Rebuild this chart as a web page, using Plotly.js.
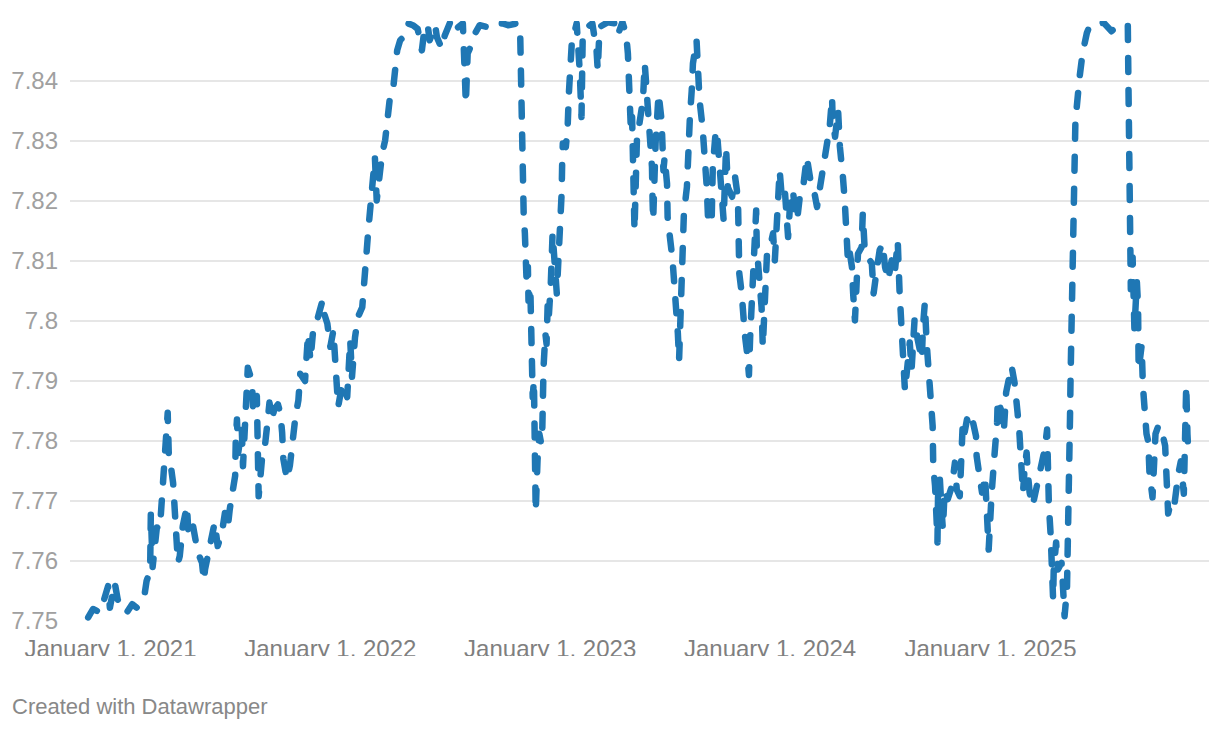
<!DOCTYPE html>
<html>
<head>
<meta charset="utf-8">
<script src="https://cdn.plot.ly/plotly-3.0.1.min.js"></script>
<style>
  html, body { margin: 0; padding: 0; background: #fff; }
  #chart { width: 1220px; height: 730px; }
  .js-line { stroke-linecap: round !important; stroke-linejoin: round !important; }
</style>
</head>
<body>
<div id="chart"></div>
<script>
// USD/HKD rate. Dates are day offsets from 2021-01-01.
const dayOffsets = [
-37,-29,-17,-12,-4,-1,7,12,19,27,36,44,52,57,60,64,66,67,70,77,82,85,89,95,97,100,104,107,109,112,115,120,127,129,135,140,145,152,155,157,162,170,173,178,185,190,195,198,203,207,208,210,212,218,220,223,228,235,237,243,244,245,246,252,257,260,264,268,272,278,282,285,287,293,
298,307,312,315,323,328,332,337,343,352,353,360,365,370,373,378,385,393,398,401,406,411,418,421,425,428,431,436,439,442,447,451,456,459,464,469,472,476,481,489,494,502,510,517,522,527,530,539,542,550,555,564,568,585,588,590,593,598,605,613,625,635,646,
651,660,675,680,681,682,683,685,686,688,689,690,691,693,694,697,699,700,701,703,704,705,706,709,712,715,717,719,722,724,726,728,731,734,741,743,748,749,750,751,756,759,761,764,766,774,777,779,782,784,792,800,807,809,812,826,837,842,850,856,859,860,862,864,866,867,869,870,874,879,884,887,890,894,897,899,900,901,905,910,915,917,918,920,924,925,929,932,934,937,940,942,944,947,950,952,957,959,962,965,967,973,975,978,983,987,990,992,
998,1000,1005,1008,1012,1015,1018,1022,1025,1032,1037,1040,1042,1043,1044,1048,1050,1053,1057,1060,1062,1065,1067,1070,1072,1073,1075,1078,1081,1083,1086,1090,1095,1100,1103,1106,1108,1111,1115,1120,1123,1125,1128,1133,1136,1140,1145,1150,1156,1159,1164,1169,1173,1178,1184,1189,1194,1198,1199,1203,1208,1211,1214,1216,1219,1222,1224,1226,1231,1233,1236,1239,1241,1247,1249,1252,1257,1264,1267,1272,1277,1282,1286,1291,1297,1302,1307,1310,1312,1314,1315,1319,1324,1327,1330,1335,1340,1347,1349,1352,1355,1359,1362,1364,1365,1366,1369,1372,1373,1374,1377,1380,1382,1385,1390,1397,1402,1405,1410,1413,1415,1418,1422,1427,1432,1437,1438,1442,1447,1452,1455,1457,1458,1463,1465,1468,1472,1473,1480,1483,1487,1490,1496,1501,1505,1506,1509,1511,1515,1518,1521,1523,1526,1531,1538,1541,1548,1551,1555,1556,1558,1561,1563,1565,1566,1570,1573,1579,1581,1584,1588,1589,
1590,1591,1593,1594,1596,1597,1599,1600,1602,1609,1614,1621,1626,1649,1656,1662,1672,1689,1690,1691,1692,1693,1694,1697,1700,1704,1706,1707,1709,1712,1714,1717,1720,1723,1725,1730,1735,1740,1745,1751,1754,1756,1762,1767,1773,1777,1782,1784,1786,1788,1790
];
const usdHkd = [
7.7506,7.7520,7.7514,7.7530,7.7558,7.7522,7.7564,7.7536,7.7519,7.7514,7.7528,7.7522,7.7536,7.7547,7.7567,7.7578,7.7597,7.7680,7.7590,7.7656,7.7653,7.7703,7.7742,7.7847,7.7770,7.7760,7.7730,7.7686,7.7636,7.7597,7.7608,7.7658,7.7692,7.7653,7.7670,7.7642,7.7614,7.7597,7.7567,7.7586,7.7608,7.7647,7.7664,7.7625,7.7647,7.7680,7.7658,7.7686,7.7714,7.7742,7.7803,7.7836,7.7780,7.7820,7.7758,7.7830,7.7922,7.7900,7.7847,7.7875,7.7808,7.7747,7.7708,7.7775,7.7797,7.7825,7.7864,7.7836,7.7853,7.7861,7.7847,7.7814,7.7770,7.7736,
7.7760,7.7840,7.7868,7.7912,7.7900,7.7979,7.7934,7.7990,7.8001,7.8034,7.8018,7.7996,7.7957,7.7984,7.7934,7.7857,7.7896,7.7873,7.7968,7.7907,7.7973,7.8007,7.8023,7.8079,7.8112,7.8151,7.8190,7.8223,7.8273,7.8201,7.8251,7.8279,7.8301,7.8334,7.8373,7.8384,7.8423,7.8451,7.8468,7.8476,7.8496,7.8493,7.8487,7.8451,7.8493,7.8490,7.8468,7.8493,7.8473,7.8454,7.8476,7.8498,7.8482,7.8496,7.8418,7.8362,7.8446,7.8457,7.8479,7.8493,7.8490,7.8498,7.8496,
7.8496,7.8493,7.8496,7.8490,7.8423,7.8340,7.8268,7.8212,7.8179,7.8146,7.8101,7.8134,7.8062,7.8090,7.8034,7.8057,7.7979,7.7923,7.7873,7.7901,7.7796,7.7746,7.7682,7.7768,7.7812,7.7796,7.7823,7.7923,7.7979,7.7962,7.8034,7.8012,7.8062,7.8146,7.8046,7.8090,7.8146,7.8212,7.8268,7.8296,7.8290,7.8323,7.8379,7.8434,7.8465,7.8496,7.8462,7.8418,7.8340,7.8473,7.8490,7.8496,7.8451,7.8418,7.8490,7.8498,7.8496,7.8476,7.8498,7.8479,7.8446,7.8418,7.8368,7.8318,7.8340,7.8284,7.8229,7.8151,7.8301,7.8340,7.8368,7.8429,7.8390,7.8323,7.8284,7.8257,7.8201,7.8168,7.8296,7.8379,7.8334,7.8284,7.8251,7.8273,7.8229,7.8173,7.8146,7.8112,7.8090,7.8057,7.8023,7.7979,7.7934,7.8046,7.8134,7.8179,7.8223,7.8290,7.8340,7.8384,7.8429,7.8468,7.8423,7.8368,7.8323,7.8273,7.8223,7.8173,
7.8162,7.8257,7.8318,7.8301,7.8251,7.8190,7.8168,7.8290,7.8223,7.8207,7.8240,7.8218,7.8190,7.8134,7.8079,7.8046,7.8012,7.7979,7.7946,7.7910,7.7973,7.8034,7.8090,7.8140,7.8184,7.8123,7.8096,7.8057,7.8023,7.7957,7.8034,7.8112,7.8123,7.8146,7.8101,7.8173,7.8218,7.8251,7.8201,7.8212,7.8168,7.8140,7.8190,7.8218,7.8190,7.8168,7.8212,7.8223,7.8273,7.8246,7.8223,7.8212,7.8190,7.8223,7.8262,7.8284,7.8323,7.8373,7.8334,7.8307,7.8351,7.8290,7.8268,7.8240,7.8201,7.8140,7.8107,7.8123,7.8090,7.8046,7.8001,7.8068,7.8112,7.8123,7.8179,7.8123,7.8107,7.8096,7.8046,7.8084,7.8118,7.8129,7.8090,7.8068,7.8101,7.8079,7.8134,7.8051,7.8012,7.7979,7.7934,7.7884,7.7934,7.7964,7.7919,7.8003,7.7970,7.7936,7.7992,7.8030,7.7964,7.7919,7.7881,7.7853,7.7825,7.7758,7.7725,7.7658,7.7631,7.7714,7.7736,7.7681,7.7653,7.7719,7.7703,7.7725,7.7764,7.7719,7.7708,7.7781,7.7831,7.7814,7.7836,7.7819,7.7831,7.7808,7.7775,7.7747,7.7714,7.7742,7.7692,7.7664,7.7619,7.7714,7.7758,7.7781,7.7831,7.7869,7.7847,7.7814,7.7881,7.7897,7.7925,7.7897,7.7869,7.7847,7.7814,7.7769,7.7714,7.7758,7.7781,7.7747,7.7714,7.7692,7.7725,7.7731,7.7764,7.7786,7.7819,7.7742,7.7692,7.7642,7.7603,7.7536,7.7586,7.7631,7.7586,7.7597,7.7564,7.7508,7.7553,7.7592,
7.7658,7.7747,7.7836,7.7908,7.7992,7.8075,7.8133,7.8246,7.8333,7.8407,7.8447,7.8480,7.8493,7.8497,7.8490,7.8483,7.8493,7.8493,7.8400,7.8266,7.8200,7.8133,7.8053,7.8106,7.7986,7.8066,7.8026,7.7919,7.7946,7.7959,7.7893,7.7839,7.7812,7.7799,7.7746,7.7706,7.7812,7.7826,7.7819,7.7792,7.7739,7.7679,7.7706,7.7699,7.7746,7.7766,7.7712,7.7786,7.7893,7.7812,7.7772
];
const xTickDates = ['2021-01-01','2022-01-01','2023-01-01','2024-01-01','2025-01-01'];
const xTickLabels = ['January 1, 2021','January 1, 2022','January 1, 2023','January 1, 2024','January 1, 2025'];
const yTickValues = [7.75,7.76,7.77,7.78,7.79,7.80,7.81,7.82,7.83,7.84];
const yTickLabels = ['7.75','7.76','7.77','7.78','7.79','7.8','7.81','7.82','7.83','7.84'];
const footerText = 'Created with Datawrapper';

const base = Date.UTC(2021, 0, 1);
const toDate = d => new Date(base + d * 86400000).toISOString().slice(0, 19).replace('T', ' ');
const dates = dayOffsets.map(toDate);

const FONT = '"Liberation Sans", Arial, Helvetica, sans-serif';

const trace = {
  type: 'scatter',
  mode: 'lines',
  x: dates,
  y: usdHkd,
  line: { color: '#1f77b4', width: 6.5, dash: '14px,18px' },
  hoverinfo: 'skip'
};

const layout = {
  width: 1220,
  height: 730,
  margin: { l: 70, r: 11, t: 21, b: 109 },
  paper_bgcolor: '#ffffff',
  plot_bgcolor: '#ffffff',
  font: { family: FONT, color: '#999999' },
  showlegend: false,
  xaxis: {
    type: 'date',
    range: [toDate(-67.2), toDate(1823.8)],
    tickmode: 'array',
    tickvals: xTickDates,
    ticktext: xTickLabels,
    showgrid: false,
    zeroline: false,
    showline: false,
    ticks: '',
    ticklabelstandoff: 11,
    tickfont: { family: FONT, size: 24, color: '#7f7f7f' },
    fixedrange: true
  },
  yaxis: {
    range: [7.75, 7.85],
    tickmode: 'array',
    tickvals: yTickValues,
    ticktext: yTickLabels,
    showgrid: true,
    gridcolor: '#e6e6e6',
    gridwidth: 2,
    zeroline: false,
    showline: false,
    ticks: '',
    ticklabelstandoff: 11,
    tickfont: { family: FONT, size: 24, color: '#a0a0a0' },
    fixedrange: true
  },
  shapes: [{
    type: 'rect', xref: 'paper', yref: 'paper', layer: 'above',
    x0: -0.1, x1: 1.1, y0: -0.11, y1: -(656 - 621) / 600,
    fillcolor: '#ffffff', line: { width: 0 }
  }],
  annotations: [{
    text: footerText,
    xref: 'paper', yref: 'paper',
    x: (10 - 70) / 1139, y: -(706 - 621) / 600,
    xanchor: 'left', yanchor: 'middle',
    showarrow: false,
    font: { family: FONT, size: 22, color: '#888888' }
  }]
};

Plotly.newPlot('chart', [trace], layout, { staticPlot: true, displayModeBar: false });
</script>
</body>
</html>
